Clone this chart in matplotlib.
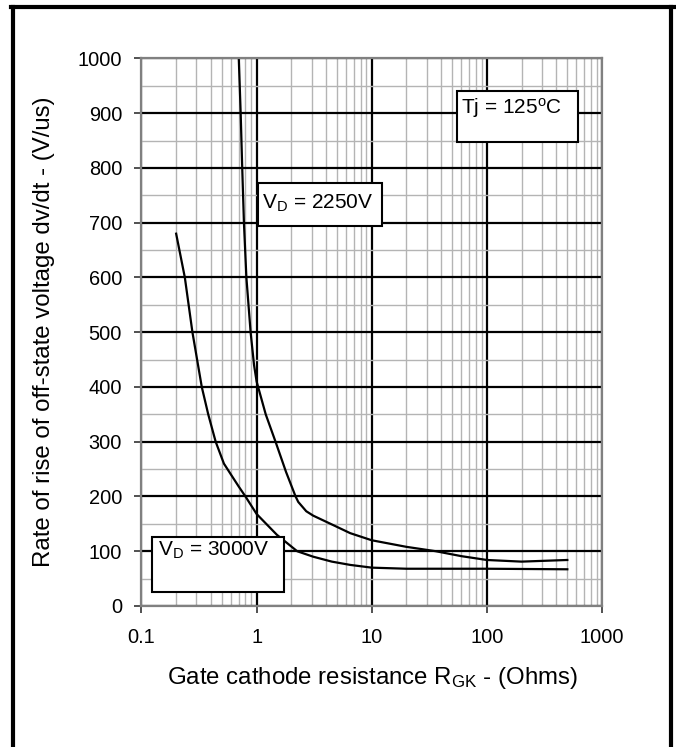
import matplotlib
matplotlib.use("Agg")
import matplotlib.pyplot as plt
import matplotlib.ticker as ticker
from matplotlib.patches import Rectangle
from matplotlib.lines import Line2D

plt.rcParams['font.family'] = ['Liberation Sans', 'DejaVu Sans']
plt.rcParams['mathtext.default'] = 'regular'

r_2250 = [0.70, 0.727, 0.75, 0.776, 0.815, 0.887, 0.95, 1.0, 1.2, 1.46, 1.8,
          2.18, 2.3, 2.7, 3.1, 4.6, 6.5, 10, 20, 36, 60, 100, 200, 500]
dvdt_2250 = [1000, 900, 800, 700, 600, 500, 440, 410, 350, 300, 245,
             200, 190, 173, 165, 148, 133, 120, 108, 100, 91, 84, 81, 84]

# Kromme V_D = 3000V
r_3000 = [0.2, 0.238, 0.277, 0.334, 0.38, 0.441, 0.52, 0.616, 0.7, 0.8, 1.0,
          1.5, 2.25, 3.1, 4.5, 6.5, 10, 20, 100, 500]
dvdt_3000 = [680, 600, 500, 400, 350, 300, 260, 236, 218, 200, 168,
             130, 100, 90, 81, 75, 70, 68, 68, 67]

x_ticks = [0.1, 1, 10, 100, 1000]
x_ticklabels = ["0.1", "1", "10", "100", "1000"]
y_ticks = list(range(0, 1001, 100))

fig = plt.figure(figsize=(6.76, 7.47), dpi=100)
ax = fig.add_axes([0.2093, 0.1888, 0.6812, 0.7329])

ax.set_xscale('log')
ax.set_xlim(0.1, 1000)
ax.set_ylim(0, 1000)

# raster: grijze hulplijnen, zwarte hoofdlijnen
ax.xaxis.set_minor_locator(ticker.LogLocator(base=10, subs=range(2, 10)))
ax.yaxis.set_minor_locator(ticker.MultipleLocator(50))
ax.grid(which='minor', color='#b4b4b4', lw=1.0)
ax.grid(which='major', color='black', lw=1.6)
ax.set_axisbelow(True)

ax.plot(r_2250, dvdt_2250, color='black', lw=1.6)
ax.plot(r_3000, dvdt_3000, color='black', lw=1.6)

ax.set_xticks(x_ticks)
ax.set_xticklabels(x_ticklabels)
ax.set_yticks(y_ticks)
ax.tick_params(which='major', direction='out', length=5, width=1.2,
               labelsize=14.4, color='#333333', labelcolor='black')
ax.tick_params(axis='y', pad=9)
ax.tick_params(axis='x', pad=11)
ax.tick_params(which='minor', length=0)
for side in ['left', 'right', 'top', 'bottom']:
    ax.spines[side].set_color('#808080')
    ax.spines[side].set_linewidth(1.6)

ax.set_xlabel("Gate cathode resistance R$_{GK}$ - (Ohms)", fontsize=17.3)
ax.set_ylabel("Rate of rise of off-state voltage dv/dt - (V/us)", fontsize=17.3)
ax.xaxis.set_label_coords(0.5016, -0.108)
ax.yaxis.set_label_coords(-0.188, 0.501)

# tekstvakken
boxes = [
    ((0.2523, 0.694), 0.2706, 0.078, (0.262, 0.736), "V$_{D}$ = 2250V"),
    ((0.0235, 0.025), 0.2853, 0.1016, (0.0365, 0.101), "V$_{D}$ = 3000V"),
    ((0.685, 0.8475), 0.263, 0.0931, (0.694, 0.909), "Tj = 125$^{o}$C"),
]
for (x0, y0), w, h, (tx, ty), txt in boxes:
    ax.add_patch(Rectangle((x0, y0), w, h, transform=ax.transAxes,
                           facecolor='white', edgecolor='black', lw=1.5, zorder=5))
    ax.text(tx, ty, txt, transform=ax.transAxes, fontsize=15,
            va='center', ha='left', zorder=6)

# zwarte kader rond de figuur (onderkant valt buiten beeld)
fw, fh = 676, 747
kader = [((13 / fw, 13 / fw), (0, 1 - 7 / fh)),
         ((11 / fw, 675 / fw), (1 - 7 / fh, 1 - 7 / fh)),
         ((671 / fw, 671 / fw), (1 - 7 / fh, 0))]
for xs, ys in kader:
    fig.add_artist(Line2D(xs, ys, transform=fig.transFigure, color='black', lw=3.0))

fig.savefig("out.png", dpi=100)
